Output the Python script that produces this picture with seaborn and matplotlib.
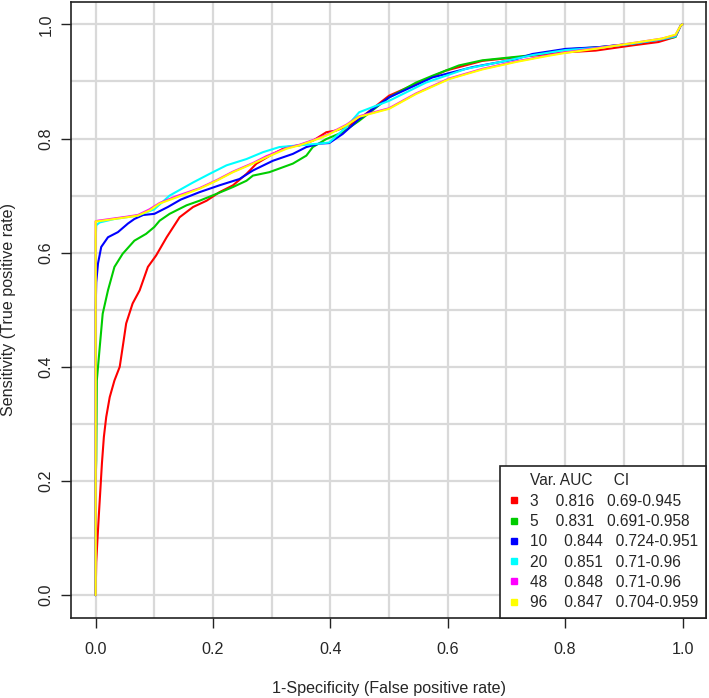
import pandas as pd
import matplotlib
matplotlib.use("Agg")
import matplotlib.pyplot as plt
from matplotlib.lines import Line2D
import seaborn as sns

# ROC curves (fpr = 1-specificity, tpr = sensitivity)
fpr_3 = [0.0, 0.001, 0.003, 0.0056, 0.008, 0.0107, 0.014, 0.018, 0.024, 0.032, 0.041, 0.047,
         0.052, 0.063, 0.075, 0.089, 0.103, 0.121, 0.143, 0.166, 0.189, 0.211, 0.234, 0.257,
         0.274, 0.302, 0.325, 0.347, 0.370, 0.393, 0.410, 0.432, 0.449, 0.500, 0.557, 0.597,
         0.659, 0.743, 0.801, 0.852, 0.914, 0.959, 0.988, 0.997, 1.0]
tpr_3 = [0.0, 0.058, 0.096, 0.143, 0.184, 0.231, 0.277, 0.312, 0.347, 0.376, 0.400, 0.441,
         0.476, 0.511, 0.534, 0.575, 0.595, 0.627, 0.662, 0.680, 0.691, 0.706, 0.718, 0.738,
         0.756, 0.773, 0.785, 0.788, 0.796, 0.811, 0.814, 0.823, 0.834, 0.875, 0.901, 0.919,
         0.936, 0.945, 0.951, 0.954, 0.963, 0.969, 0.978, 0.998, 1.0]

fpr_5 = [0.0, 0.0, 0.001, 0.002, 0.007, 0.012, 0.021, 0.032, 0.046, 0.066, 0.086, 0.100,
         0.109, 0.126, 0.155, 0.177, 0.206, 0.234, 0.257, 0.268, 0.296, 0.336, 0.359, 0.370,
         0.393, 0.421, 0.449, 0.500, 0.546, 0.574, 0.619, 0.659, 0.744, 0.801, 0.857, 0.914,
         0.965, 0.988, 0.997, 1.0]
tpr_5 = [0.0, 0.20, 0.236, 0.376, 0.435, 0.493, 0.534, 0.575, 0.598, 0.621, 0.633, 0.645,
         0.656, 0.668, 0.683, 0.691, 0.703, 0.715, 0.726, 0.735, 0.741, 0.756, 0.770, 0.785,
         0.799, 0.811, 0.831, 0.872, 0.898, 0.910, 0.928, 0.937, 0.946, 0.956, 0.960, 0.966,
         0.974, 0.978, 0.998, 1.0]

fpr_10 = [0.0, 0.0, 0.001, 0.004, 0.0095, 0.021, 0.038, 0.055, 0.066, 0.081, 0.100, 0.123,
          0.145, 0.177, 0.211, 0.245, 0.268, 0.302, 0.336, 0.359, 0.381, 0.398, 0.421, 0.449,
          0.500, 0.574, 0.642, 0.716, 0.744, 0.801, 0.857, 0.914, 0.965, 0.988, 0.997, 1.0]
tpr_10 = [0.0, 0.50, 0.548, 0.581, 0.610, 0.627, 0.636, 0.651, 0.659, 0.666, 0.668, 0.680,
          0.693, 0.706, 0.718, 0.729, 0.744, 0.761, 0.773, 0.785, 0.791, 0.792, 0.808, 0.834,
          0.872, 0.907, 0.925, 0.939, 0.948, 0.957, 0.960, 0.966, 0.974, 0.980, 0.998, 1.0]

fpr_20 = [0.0, 0.0, 0.001, 0.007, 0.032, 0.072, 0.100, 0.126, 0.166, 0.194, 0.223, 0.257,
          0.285, 0.313, 0.347, 0.381, 0.398, 0.427, 0.449, 0.500, 0.563, 0.631, 0.699, 0.744,
          0.801, 0.857, 0.914, 0.965, 0.988, 0.997, 1.0]
tpr_20 = [0.0, 0.62, 0.648, 0.653, 0.659, 0.665, 0.676, 0.700, 0.723, 0.738, 0.753, 0.764,
          0.776, 0.785, 0.788, 0.791, 0.793, 0.820, 0.846, 0.866, 0.898, 0.922, 0.936, 0.946,
          0.955, 0.959, 0.966, 0.974, 0.979, 0.998, 1.0]

fpr_48 = [0.0, 0.0, 0.004, 0.032, 0.053, 0.072, 0.092, 0.109, 0.138, 0.177, 0.206, 0.234,
          0.268, 0.291, 0.325, 0.347, 0.370, 0.393, 0.427, 0.449, 0.500, 0.546, 0.602, 0.659,
          0.716, 0.772, 0.801, 0.857, 0.914, 0.965, 0.988, 0.997, 1.0]
tpr_48 = [0.0, 0.655, 0.656, 0.660, 0.663, 0.666, 0.676, 0.687, 0.699, 0.713, 0.727, 0.742,
          0.757, 0.769, 0.783, 0.789, 0.797, 0.806, 0.824, 0.839, 0.853, 0.879, 0.905, 0.922,
          0.935, 0.946, 0.951, 0.959, 0.967, 0.975, 0.981, 0.998, 1.0]

fpr_96 = [0.0, 0.0, 0.004, 0.032, 0.053, 0.072, 0.092, 0.109, 0.138, 0.177, 0.206, 0.234,
          0.268, 0.291, 0.325, 0.347, 0.370, 0.393, 0.427, 0.449, 0.500, 0.546, 0.602, 0.659,
          0.716, 0.772, 0.801, 0.857, 0.914, 0.965, 0.988, 0.997, 1.0]
tpr_96 = [0.0, 0.655, 0.655, 0.659, 0.662, 0.665, 0.674, 0.686, 0.697, 0.712, 0.726, 0.741,
          0.756, 0.767, 0.782, 0.788, 0.796, 0.805, 0.823, 0.838, 0.852, 0.878, 0.904, 0.921,
          0.934, 0.945, 0.950, 0.958, 0.967, 0.975, 0.982, 0.998, 1.0]

variables = ["3", "5", "10", "20", "48", "96"]
auc = ["0.816", "0.831", "0.844", "0.851", "0.848", "0.847"]
ci = ["0.69-0.945", "0.691-0.958", "0.724-0.951", "0.71-0.96", "0.71-0.96", "0.704-0.959"]
colors = ["#FF0000", "#00CD00", "#0000FF", "#00FFFF", "#FF00FF", "#FFFF00"]
major_ticks = [0.0, 0.2, 0.4, 0.6, 0.8, 1.0]
grid_ticks = [0.0, 0.1, 0.2, 0.3, 0.4, 0.5, 0.6, 0.7, 0.8, 0.9, 1.0]

curves = {"3": (fpr_3, tpr_3), "5": (fpr_5, tpr_5), "10": (fpr_10, tpr_10),
          "20": (fpr_20, tpr_20), "48": (fpr_48, tpr_48), "96": (fpr_96, tpr_96)}

frames = []
for var, (f, t) in curves.items():
    frames.append(pd.DataFrame({"fpr": f, "tpr": t, "Var": var}))
df = pd.concat(frames, ignore_index=True)

sns.set_style("white")
plt.rcParams["font.family"] = ["Liberation Sans", "DejaVu Sans"]
txt = 11.6

fig = plt.figure(figsize=(7.09, 6.98), dpi=100)
ax = fig.add_axes([71 / 709, 1 - 618 / 698, 635 / 709, 616.5 / 698])

sns.lineplot(data=df, x="fpr", y="tpr", hue="Var", hue_order=variables,
             palette=dict(zip(variables, colors)), sort=False, estimator=None,
             units="Var", linewidth=1.5, legend=False, ax=ax, zorder=3)

ax.set_xlim(-0.042, 1.04)
ax.set_ylim(-0.04, 1.04)
ax.set_xticks(grid_ticks, minor=True)
ax.set_yticks(grid_ticks, minor=True)
ax.set_xticks(major_ticks)
ax.set_yticks(major_ticks)
ax.set_xticklabels([f"{t:.1f}" for t in major_ticks])
ax.set_yticklabels([f"{t:.1f}" for t in major_ticks], rotation=90, va="center")
ax.grid(True, which="both", color="#D9D9D9", linewidth=1.6, zorder=0)
ax.set_axisbelow(True)
ax.tick_params(which="major", direction="out", length=7, width=1, color="#222222",
               labelsize=txt, bottom=True, left=True)
ax.tick_params(axis="x", pad=10.5)
ax.tick_params(axis="y", pad=5.5)
ax.tick_params(which="minor", length=0)
for s in ax.spines.values():
    s.set_color("#222222")
    s.set_linewidth(1.2)

ax.set_xlabel("1-Specificity (False positive rate)", fontsize=txt)
ax.set_ylabel("Sensitivity (True positive rate)", fontsize=txt)
ax.xaxis.set_label_coords(0.5, -0.102)
ax.yaxis.set_label_coords(-0.086, 0.5)

handles = [Line2D([], [], linestyle="none")]
labels = ["Var. AUC     CI"]
for var, a, c, col in zip(variables, auc, ci, colors):
    handles.append(Line2D([], [], marker="s", linestyle="none", markersize=5,
                          markerfacecolor=col, markeredgecolor=col))
    labels.append(f"{var}    {a}   {c}")
leg = ax.legend(handles, labels, loc="lower right", borderaxespad=0, fancybox=False,
                framealpha=1, edgecolor="#222222", fontsize=11.2, handlelength=0.8,
                handletextpad=0.6, labelspacing=0.34, borderpad=0.5)
leg.get_frame().set_linewidth(1.2)

fig.savefig("out.png", dpi=100)
